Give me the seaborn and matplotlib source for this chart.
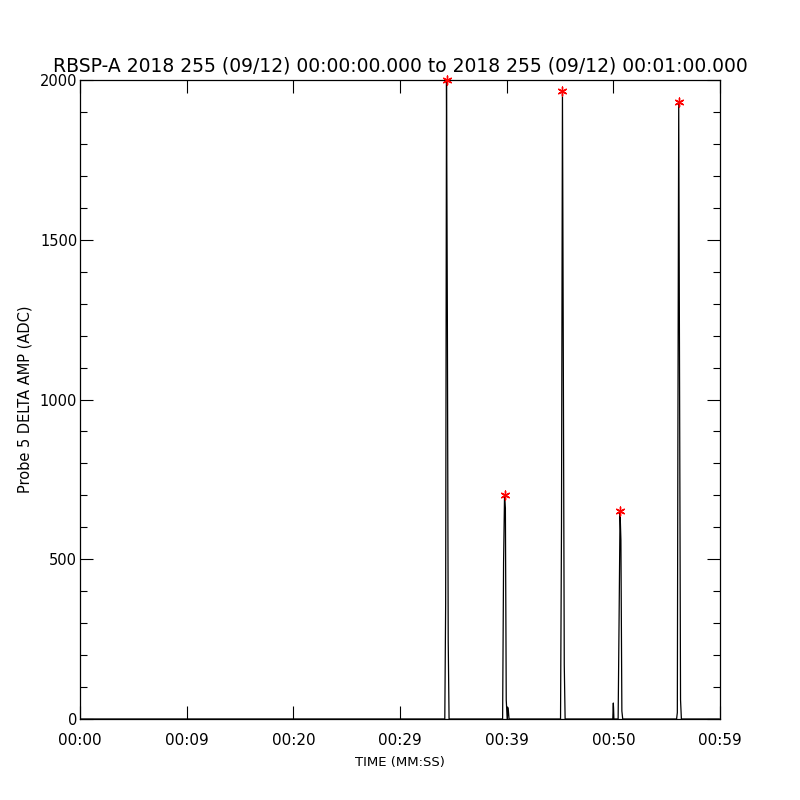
import numpy as np
import pandas as pd
import seaborn as sns
import matplotlib.pyplot as plt
from matplotlib.ticker import MultipleLocator

# time in seconds after 00:00:00, amplitude in ADC counts
spike_times = [
    [34.20, 34.28, 34.36, 34.44, 34.52, 34.60],
    [39.62, 39.71, 39.80, 39.88, 39.96, 40.05, 40.14, 40.22],
    [45.05, 45.14, 45.23, 45.31, 45.40, 45.48],
    [49.95, 50.00, 50.05, 50.45, 50.54, 50.63, 50.71, 50.80, 50.88],
    [55.93, 56.00, 56.05, 56.13, 56.21, 56.30, 56.38],
]
spike_values = [
    [0, 360, 2000, 1260, 245, 0],
    [0, 490, 700, 660, 60, 0, 35, 0],
    [0, 605, 1965, 1135, 170, 0],
    [0, 50, 0, 0, 316, 650, 560, 25, 0],
    [0, 20, 845, 1930, 1045, 60, 0],
]
start_end_times = [0.0, 59.95]
x_ticks = [0, 10, 20, 30, 40, 50, 60]
x_tick_labels = ["00:00", "00:09", "00:20", "00:29", "00:39", "00:50", "00:59"]
y_ticks = [0, 500, 1000, 1500, 2000]

t = [start_end_times[0]] + [v for s in spike_times for v in s] + [start_end_times[1]]
a = [0] + [v for s in spike_values for v in s] + [0]
df = pd.DataFrame({"time": t, "amp": a})

peak_t = [s[int(np.argmax(v))] for s, v in zip(spike_times, spike_values)]
peak_a = [max(v) for v in spike_values]

sns.set_style("ticks")
plt.rcParams["font.family"] = ["DejaVu Sans"]
plt.rcParams["text.color"] = "black"
plt.rcParams["axes.labelcolor"] = "black"
plt.rcParams["xtick.color"] = "black"
plt.rcParams["ytick.color"] = "black"

fig = plt.figure(figsize=(8, 8), dpi=100)
ax = fig.add_axes([0.1, 0.10125, 0.8, 0.79875])

sns.lineplot(data=df, x="time", y="amp", sort=False, estimator=None,
             color="black", linewidth=0.9, ax=ax)
sns.scatterplot(x=peak_t, y=peak_a, marker=(6, 2, 0), color="red",
                s=40, linewidth=1.0, ax=ax, clip_on=False, zorder=5)

ax.set_xlim(0, 60)
ax.set_ylim(0, 2000)
ax.set_xticks(x_ticks)
ax.set_xticklabels(x_tick_labels, fontsize=11)
ax.set_yticks(y_ticks)
ax.set_yticklabels([str(v) for v in y_ticks], fontsize=10.5)
ax.yaxis.set_minor_locator(MultipleLocator(100))

ax.tick_params(axis="both", which="major", direction="in", length=9.4,
               width=0.8, top=True, right=True)
ax.tick_params(axis="y", which="minor", direction="in", length=4.7,
               width=0.8, left=True, right=True)
ax.tick_params(axis="x", which="major", pad=10)
ax.tick_params(axis="y", which="major", pad=2)
for sp in ax.spines.values():
    sp.set_visible(True)
    sp.set_linewidth(0.9)
    sp.set_color("black")

ax.set_title("RBSP-A 2018 255 (09/12) 00:00:00.000 to 2018 255 (09/12) 00:01:00.000",
             fontsize=13.5, pad=6)
ax.set_xlabel("TIME (MM:SS)", fontsize=9.5, labelpad=6)
ax.set_ylabel("Probe 5 DELTA AMP (ADC)", fontsize=10.5, va="center")
ax.yaxis.set_label_coords(-0.086, 0.5)

fig.savefig("out.png", dpi=100, facecolor="white")
